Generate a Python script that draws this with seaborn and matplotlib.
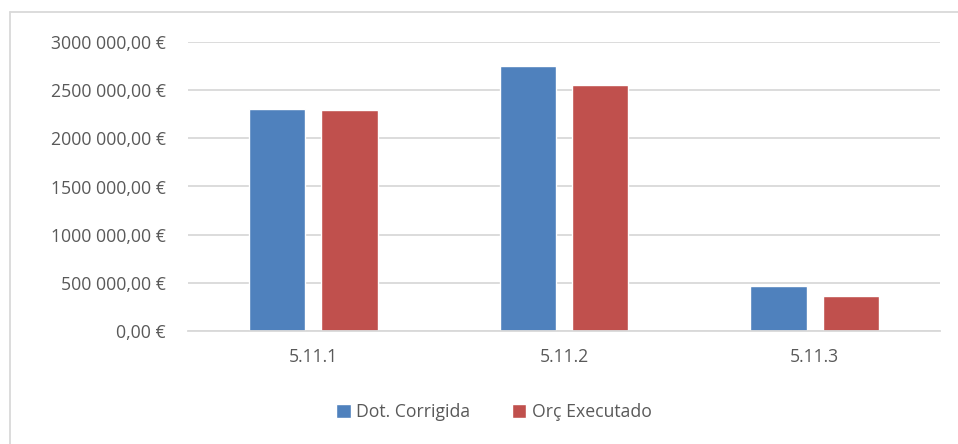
import matplotlib
matplotlib.use("Agg")
import matplotlib.pyplot as plt
import pandas as pd
import seaborn as sns

categories = ["5.11.1", "5.11.2", "5.11.3"]
dot_corrigida = [2308000, 2751000, 467000]
orc_executado = [2298000, 2554000, 360000]
series_names = ["Dot. Corrigida", "Orç Executado"]
y_ticks = [0, 500000, 1000000, 1500000, 2000000, 2500000, 3000000]
y_labels = ["0,00 €", "500 000,00 €", "1000 000,00 €", "1500 000,00 €",
            "2000 000,00 €", "2500 000,00 €", "3000 000,00 €"]

df = pd.DataFrame({
    "cat": categories * 2,
    "serie": [series_names[0]] * 3 + [series_names[1]] * 3,
    "valor": dot_corrigida + orc_executado,
})

sns.set_style("white")
plt.rcParams["font.family"] = ["Open Sans", "DejaVu Sans"]

fig = plt.figure(figsize=(9.58, 4.44), dpi=100)
ax = fig.add_axes([188 / 958, 1 - 331 / 444, (940 - 188) / 958, (331 - 42) / 444])

sns.barplot(data=df, x="cat", y="valor", hue="serie", ax=ax,
            palette=["#4f81bd", "#c0504d"], width=0.576, gap=0.222,
            saturation=1, errorbar=None)

ax.set_xlim(-0.5, 2.5)
ax.set_ylim(0, 3000000)
ax.set_yticks(y_ticks)
ax.set_yticklabels(y_labels)
ax.set_xlabel("")
ax.set_ylabel("")
ax.grid(axis="y", color="#d9d9d9", linewidth=1.3)
ax.set_axisbelow(True)
for s in ["top", "right", "left"]:
    ax.spines[s].set_visible(False)
ax.spines["bottom"].set_color("#d9d9d9")
ax.spines["bottom"].set_linewidth(1.3)
ax.tick_params(axis="both", length=0, labelsize=12.7, colors="#595959")
ax.tick_params(axis="y", pad=16)
ax.tick_params(axis="x", pad=12)

handles, labels = ax.get_legend_handles_labels()
ax.get_legend().remove()
leg = fig.legend(handles, labels, loc="center", bbox_to_anchor=(494 / 958, 1 - 412 / 444),
                 ncol=2, frameon=False, fontsize=12.7, handlelength=0.8,
                 handleheight=0.8, handletextpad=0.3, columnspacing=2.4)
for t in leg.get_texts():
    t.set_color("#595959")

# chart area border (top and left visible)
fig.add_artist(plt.Line2D([10 / 958, 10 / 958], [0, 1 - 12 / 444],
                          transform=fig.transFigure, color="#d9d9d9", lw=1.3))
fig.add_artist(plt.Line2D([10 / 958, 1], [1 - 12 / 444, 1 - 12 / 444],
                          transform=fig.transFigure, color="#d9d9d9", lw=1.3))

fig.savefig("out.png", dpi=100)
